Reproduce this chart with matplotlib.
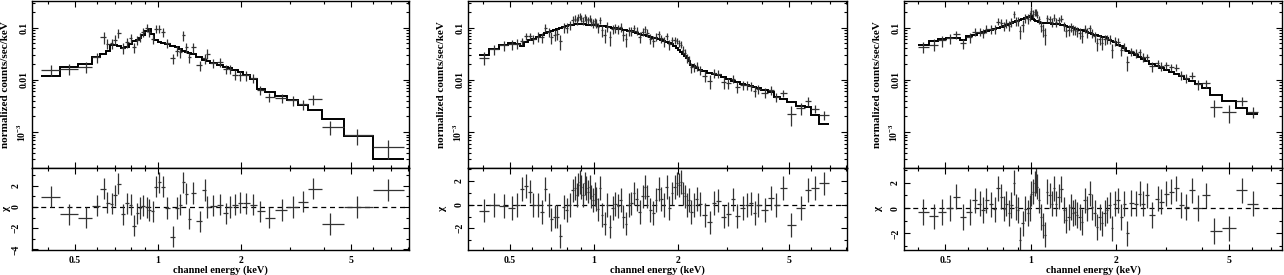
import numpy as np
import matplotlib
matplotlib.use("Agg")
import matplotlib.pyplot as plt
from matplotlib.ticker import FixedLocator, NullFormatter

plt.rcParams['font.family'] = ['Liberation Serif', 'DejaVu Serif']
plt.rcParams['font.weight'] = 'bold'
plt.rcParams['mathtext.default'] = 'regular'

# ---------------- Panel 1 ----------------
e1 = [0.409, 0.478, 0.549, 0.602, 0.636, 0.656, 0.680, 0.699, 0.719, 0.749,
      0.774, 0.796, 0.821, 0.842, 0.861, 0.880, 0.910, 0.930, 0.956, 0.983,
      1.011, 1.040, 1.075, 1.130, 1.175, 1.201, 1.235, 1.263, 1.298, 1.335,
      1.419, 1.475, 1.508, 1.586, 1.676, 1.758, 1.822, 1.900, 1.981, 2.082,
      2.213, 2.340, 2.529, 2.803, 3.072, 3.357, 3.649, 4.193, 5.265, 6.817]
data1 = [0.0153, 0.0162, 0.0177, 0.0271, 0.0653, 0.0488, 0.0502, 0.0581, 0.0780, 0.0408,
         0.0525, 0.0625, 0.0420, 0.0581, 0.0653, 0.0815, 0.0986, 0.0815, 0.0607, 0.0943,
         0.0943, 0.0815, 0.0502, 0.0260, 0.0363, 0.0338, 0.0704, 0.0420, 0.0271, 0.0420,
         0.0188, 0.0260, 0.0314, 0.0208, 0.0218, 0.0162, 0.0162, 0.0126, 0.0121, 0.0121,
         0.0108, 0.00644, 0.00467, 0.00453, 0.00403, 0.00338, 0.00421, 0.00128, 0.000863, 0.000516]
model1 = [0.0119, 0.0175, 0.0205, 0.0270, 0.0314, 0.0363, 0.0453, 0.0473, 0.0434, 0.0408,
          0.0420, 0.0488, 0.0548, 0.0581, 0.0625, 0.0735, 0.0851, 0.0930, 0.0757, 0.0581,
          0.0517, 0.0502, 0.0488, 0.0446, 0.0420, 0.0380, 0.0348, 0.0333, 0.0328, 0.0314,
          0.0271, 0.0241, 0.0234, 0.0211, 0.0188, 0.0175, 0.0165, 0.0151, 0.0140, 0.0126,
          0.0103, 0.00673, 0.00573, 0.00488, 0.00415, 0.00333, 0.00259, 0.00175, 0.00084, 0.00030]
rel1 = [0.24, 0.24, 0.24, 0.22, 0.25, 0.22, 0.22, 0.22, 0.20, 0.22,
        0.22, 0.20, 0.22, 0.20, 0.20, 0.18, 0.18, 0.18, 0.20, 0.18,
        0.18, 0.18, 0.20, 0.22, 0.20, 0.22, 0.20, 0.22, 0.22, 0.22,
        0.22, 0.22, 0.22, 0.20, 0.20, 0.20, 0.20, 0.20, 0.20, 0.20,
        0.20, 0.20, 0.20, 0.20, 0.20, 0.22, 0.22, 0.30, 0.35, 0.40]
chi1 = [0.95, -0.68, -1.0, 0.1, 1.7, 0.4, 0.3, 1.1, 2.2, -0.7,
        0.35, 0.2, -1.75, -0.6, -0.1, 0.1, -0.05, -0.3, -0.4, 1.9,
        2.3, 1.9, -0.1, -2.8, -0.1, 0.2, 2.3, 1.25, -1.1, 1.3,
        -1.35, 1.6, 0.0, 0.1, 0.2, -0.6, 0.0, 0.2, 0.4, 0.35,
        0.2, -0.4, -1.0, -0.3, 0.0, 0.5, 1.7, -1.6, 0.0, 1.6]

# ---------------- Panel 2 ----------------
e2 = [0.4034, 0.4381, 0.4746, 0.5082, 0.5312, 0.5520, 0.5706, 0.5897, 0.6062, 0.6300,
      0.6512, 0.6694, 0.6881, 0.7034, 0.7228, 0.7370, 0.7554, 0.7807, 0.7980, 0.8203,
      0.8385, 0.8525, 0.8667, 0.8764, 0.8884, 0.9007, 0.9133, 0.9257, 0.9386, 0.9517,
      0.9649, 0.9781, 0.9918, 1.0055, 1.0195, 1.0335, 1.0537, 1.0683, 1.0920, 1.1163,
      1.1382, 1.1698, 1.1926, 1.2190, 1.2461, 1.2738, 1.3022, 1.3312, 1.3607, 1.3910,
      1.4218, 1.4617, 1.4940, 1.5190, 1.5530, 1.5873, 1.6272, 1.6683, 1.7055, 1.7434,
      1.7822, 1.8218, 1.8621, 1.9037, 1.9458, 1.9783, 2.0114, 2.0447, 2.0788, 2.1135,
      2.1484, 2.1842, 2.2330, 2.2825, 2.3335, 2.3985, 2.4930, 2.5980, 2.6925, 2.7826,
      2.9240, 3.0222, 3.1495, 3.2640, 3.4110, 3.5450, 3.6640, 3.7660, 3.8710, 4.0900,
      4.3210, 4.5030, 4.7580, 5.0970, 5.5350, 5.8480, 6.1800, 6.6730]
model2 = [0.0301, 0.0380, 0.0467, 0.0510, 0.0488, 0.0434, 0.0525, 0.0565, 0.0607, 0.0673,
          0.0735, 0.0791, 0.0827, 0.0864, 0.0903, 0.0943, 0.0985, 0.1045, 0.1092, 0.1124,
          0.1141, 0.1158, 0.1175, 0.1175, 0.1175, 0.1175, 0.1158, 0.1158, 0.1141, 0.1141,
          0.1141, 0.1124, 0.1124, 0.1108, 0.1108, 0.1092, 0.1076, 0.1076, 0.1060, 0.1045,
          0.1030, 0.1000, 0.0985, 0.0957, 0.0943, 0.0916, 0.0889, 0.0864, 0.0839, 0.0815,
          0.0791, 0.0757, 0.0735, 0.0714, 0.0693, 0.0673, 0.0644, 0.0617, 0.0590, 0.0565,
          0.0548, 0.0532, 0.0510, 0.0481, 0.0447, 0.0409, 0.0374, 0.0343, 0.0314, 0.0288,
          0.0263, 0.0224, 0.0196, 0.0180, 0.0165, 0.0155, 0.0146, 0.0136, 0.0130, 0.0123,
          0.01125, 0.01045, 0.0097, 0.00916, 0.0085, 0.0080, 0.00756, 0.00724, 0.00683, 0.00625,
          0.00573, 0.00467, 0.00427, 0.00374, 0.00309, 0.00300, 0.00208, 0.00144]
rel2 = [0.24, 0.22, 0.22, 0.22, 0.22, 0.20, 0.20, 0.20, 0.20, 0.20,
        0.20, 0.20, 0.20, 0.20, 0.20, 0.20, 0.17, 0.20, 0.20, 0.20,
        0.20, 0.20, 0.20, 0.20, 0.20, 0.20, 0.20, 0.20, 0.20, 0.20,
        0.20, 0.20, 0.20, 0.20, 0.20, 0.20, 0.20, 0.20, 0.20, 0.20,
        0.20, 0.20, 0.20, 0.20, 0.20, 0.20, 0.20, 0.20, 0.20, 0.20,
        0.20, 0.20, 0.20, 0.20, 0.20, 0.20, 0.20, 0.20, 0.20, 0.20,
        0.20, 0.20, 0.20, 0.20, 0.20, 0.20, 0.20, 0.20, 0.20, 0.20,
        0.20, 0.20, 0.20, 0.20, 0.20, 0.20, 0.20, 0.20, 0.20, 0.20,
        0.20, 0.20, 0.20, 0.20, 0.20, 0.20, 0.20, 0.20, 0.20, 0.20,
        0.20, 0.20, 0.22, 0.24, 0.24, 0.24, 0.24, 0.26]
chi2 = [-0.5, 0.0, -0.1, -0.3, 0.0, 1.3, 1.6, 1.1, 0.0, 0.0,
        -0.6, 1.3, 0.0, -1.25, -1.0, -1.0, -2.65, -0.2, -0.45, -0.05,
        1.2, 1.4, 0.8, 1.7, 1.9, 1.5, 0.8, 1.8, 1.4, 1.1,
        1.5, 0.7, 0.4, 0.9, 0.5, -0.4, 1.4, -0.9, -1.6, 0.0,
        -1.85, -0.3, 0.05, -0.1, 0.4, -1.0, -1.6, -0.05, 0.1, 0.95,
        0.45, -0.6, 0.7, 1.5, 0.7, -0.45, -0.7, 0.4, 1.3, 0.5,
        -0.05, 1.5, -0.3, 0.95, 1.5, 1.8, 1.65, 1.9, 0.95, 0.7,
        -0.05, 0.4, -0.6, -0.05, 0.5, 0.05, -0.9, -1.5, 0.15, 0.35,
        -1.0, -0.8, 0.45, -0.95, -0.3, -0.05, 0.1, -0.7, -0.05, -0.45,
        0.55, -0.05, 1.4, -1.7, -0.3, 1.25, 1.4, 1.8]

# ---------------- Panel 3 ----------------
e3 = [0.4182, 0.4571, 0.4877, 0.5191, 0.5477, 0.5781, 0.6103, 0.6353, 0.6616, 0.6798,
      0.6984, 0.7272, 0.7471, 0.7675, 0.7885, 0.8057, 0.8211, 0.8367, 0.8551, 0.8738,
      0.8905, 0.9027, 0.9147, 0.9398, 0.9577, 0.9786, 0.9920, 1.0054, 1.0191, 1.0330,
      1.0469, 1.0554, 1.0698, 1.0902, 1.1051, 1.1199, 1.1445, 1.1663, 1.1885, 1.2081,
      1.2312, 1.2546, 1.2820, 1.3098, 1.3348, 1.3602, 1.3900, 1.4128, 1.4359, 1.4593,
      1.4871, 1.5154, 1.5486, 1.5824, 1.6126, 1.6433, 1.6792, 1.7160, 1.7487, 1.7821,
      1.8210, 1.8605, 1.8960, 1.9320, 1.9744, 2.0284, 2.0840, 2.1296, 2.1878, 2.2600,
      2.3533, 2.4180, 2.4840, 2.5724, 2.6717, 2.8045, 2.8815, 3.0003, 3.1242, 3.2532,
      3.3878, 3.5277, 3.6940, 3.8780, 4.1477, 4.4370, 5.0118, 5.5363, 6.0534]
model3 = [0.0453, 0.0548, 0.0607, 0.0625, 0.0625, 0.0581, 0.0693, 0.0735, 0.0780, 0.0815,
          0.0839, 0.0889, 0.0943, 0.0985, 0.1045, 0.1092, 0.1124, 0.1175, 0.1228, 0.1283,
          0.1321, 0.1361, 0.1401, 0.1464, 0.1530, 0.1599, 0.1646, 0.1696, 0.1464, 0.1401,
          0.1361, 0.1321, 0.1283, 0.1246, 0.1228, 0.1228, 0.1210, 0.1210, 0.1193, 0.1175,
          0.1175, 0.1158, 0.1141, 0.1108, 0.1076, 0.1045, 0.1015, 0.0985, 0.0957, 0.0943,
          0.0916, 0.0889, 0.0851, 0.0815, 0.0791, 0.0757, 0.0735, 0.0714, 0.0693, 0.0673,
          0.0653, 0.0625, 0.0581, 0.0548, 0.0517, 0.0473, 0.0434, 0.0403, 0.0363, 0.0324,
          0.0301, 0.0271, 0.0252, 0.0227, 0.0202, 0.0180, 0.0167, 0.0155, 0.0140, 0.0130,
          0.0116, 0.01045, 0.00944, 0.00815, 0.00703, 0.00502, 0.00391, 0.00292, 0.00224]
rel3 = [0.22, 0.22, 0.22, 0.21, 0.20, 0.20, 0.20, 0.20, 0.20, 0.20,
        0.20, 0.20, 0.20, 0.20, 0.20, 0.20, 0.20, 0.20, 0.20, 0.20,
        0.20, 0.20, 0.16, 0.20, 0.20, 0.20, 0.20, 0.20, 0.20, 0.20,
        0.20, 0.20, 0.20, 0.20, 0.20, 0.20, 0.20, 0.20, 0.20, 0.20,
        0.20, 0.20, 0.20, 0.20, 0.20, 0.20, 0.20, 0.20, 0.20, 0.20,
        0.20, 0.20, 0.20, 0.20, 0.20, 0.20, 0.20, 0.20, 0.20, 0.20,
        0.20, 0.20, 0.20, 0.20, 0.20, 0.20, 0.20, 0.20, 0.20, 0.20,
        0.20, 0.20, 0.20, 0.20, 0.20, 0.20, 0.20, 0.20, 0.20, 0.20,
        0.20, 0.20, 0.20, 0.20, 0.21, 0.22, 0.24, 0.24, 0.24]
chi3 = [-0.3, -0.65, -0.3, 0.0, 0.9, -0.7, -0.3, 0.6, 0.35, -0.15,
        0.6, 0.3, -0.1, 1.55, 0.9, -0.05, 0.35, -0.4, 0.25, 2.0,
        0.1, -0.15, -2.5, -1.2, -0.05, -0.4, 0.0, 1.15, 1.3, 1.95,
        2.2, 1.7, 0.6, -0.7, -1.35, -2.1, 1.3, 1.0, 0.35, 1.55,
        0.35, 0.9, 1.5, -0.15, -0.95, -0.7, 0.1, -0.4, -0.3, -0.55,
        -0.7, -1.1, 0.6, -0.05, 1.15, 0.1, -0.4, -1.5, -0.7, -1.2,
        -0.4, -0.15, 0.25, -1.6, 0.35, 0.6, -0.7, 0.35, -2.0, 0.4,
        0.35, 1.15, 0.35, 1.0, -0.55, 0.75, 0.5, 1.15, 1.3, 1.55,
        0.25, 0.1, 1.4, 0.0, 1.0, -1.8, -1.6, 1.4, 0.35]

# data points for panels 2/3 follow from model, delchi residual and error
m2, c2, r2 = np.array(model2), np.array(chi2), np.array(rel2)
data2 = m2 * (1 + c2 * r2)
m3, c3, r3 = np.array(model3), np.array(chi3), np.array(rel3)
data3 = m3 * (1 + c3 * r3)

x_major = [0.5, 1, 2, 5]
x_major_labels = ['0.5', '1', '2', '5']
x_minor = [0.4, 0.6, 0.7, 0.8, 0.9, 3, 4, 6, 7, 8]
y_major = [1e-3, 1e-2, 1e-1]
y_major_labels = ['10$^{-3}$', '0.01', '0.1']

panels = [
    dict(e=e1, data=np.array(data1), model=model1, sig=np.array(rel1) * np.array(data1), chi=chi1,
         left=32, width=377, xlim=(0.35, 8.1), rlim=(-4.05, 3.66), rticks=[-4, -2, 0, 2], rpad=8.0),
    dict(e=e2, data=data2, model=model2, sig=r2 * m2, chi=chi2,
         left=468, width=379, xlim=(0.353, 8.07), rlim=(-3.83, 3.1), rticks=[-2, 0, 2], rpad=2.8),
    dict(e=e3, data=data3, model=model3, sig=r3 * m3, chi=chi3,
         left=904, width=378, xlim=(0.358, 7.68), rlim=(-3.3, 3.16), rticks=[-2, 0, 2], rpad=2.8),
]

W, H = 1284, 275
fig = plt.figure(figsize=(W / 100, H / 100), dpi=100)
top_y0, top_y1 = 0.6, 168
res_y1 = 250
ECOL = '#333333'
FW = 'bold'

def style_axis(ax, xlim):
    ax.set_xscale('log')
    ax.set_xlim(*xlim)
    ax.xaxis.set_major_locator(FixedLocator(x_major))
    ax.xaxis.set_minor_locator(FixedLocator(x_minor))
    ax.xaxis.set_minor_formatter(NullFormatter())
    ax.tick_params(which='both', direction='in', top=True, right=True, width=0.8, colors='black')
    ax.tick_params(which='major', length=4.5)
    ax.tick_params(which='minor', length=2.3)
    for s in ax.spines.values():
        s.set_linewidth(1.0)

for p in panels:
    e = np.array(p['e'])
    logc = np.log10(e)
    mids = (logc[:-1] + logc[1:]) / 2
    edges = 10 ** np.concatenate([[2 * logc[0] - mids[0]], mids, [2 * logc[-1] - mids[-1]]])
    xlo = e - edges[:-1]
    xhi = edges[1:] - e
    L, Wd = p['left'], p['width']

    axt = fig.add_axes([L / W, 1 - top_y1 / H, Wd / W, (top_y1 - top_y0) / H])
    axr = fig.add_axes([L / W, 1 - res_y1 / H, Wd / W, (res_y1 - top_y1) / H])

    # top panel
    style_axis(axt, p['xlim'])
    axt.set_yscale('log')
    axt.set_ylim(2.06e-4, 0.327)
    axt.stairs(p['model'], edges, baseline=None, color='black', lw=1.4)
    axt.errorbar(e, p['data'], xerr=[xlo, xhi], yerr=p['sig'], fmt='none',
                 ecolor=ECOL, elinewidth=0.9, capsize=0)
    axt.set_yticks(y_major, y_major_labels, rotation=90, va='center', fontsize=7, fontweight=FW)
    axt.tick_params(axis='y', which='major', pad=2.6)
    axt.tick_params(axis='x', labelbottom=False)
    axt.set_ylabel('normalized counts/sec/keV', fontsize=8, fontweight=FW, va='center', ha='center')
    axt.yaxis.set_label_coords(-26 / Wd, 0.5)

    # residual panel
    style_axis(axr, p['xlim'])
    axr.set_ylim(*p['rlim'])
    axr.axhline(0, color='black', lw=0.9, ls=(0, (4, 3)))
    axr.errorbar(e, p['chi'], xerr=[xlo, xhi], yerr=1.0, fmt='none',
                 ecolor=ECOL, elinewidth=0.9, capsize=0)
    axr.set_yticks(p['rticks'], [('\u2212' + str(-t)) if t < 0 else str(t) for t in p['rticks']],
                   rotation=90, va='center', fontsize=7, fontweight=FW)
    axr.yaxis.set_minor_locator(FixedLocator([-3, -1, 1, 3]))
    axr.tick_params(axis='y', which='major', pad=p['rpad'])
    axr.set_xticklabels(x_major_labels, fontsize=7, fontweight=FW)
    axr.tick_params(axis='x', which='major', pad=4)
    axr.set_ylabel('\u03c7', fontsize=8, fontweight=FW, va='center', ha='center', rotation=90)
    axr.yaxis.set_label_coords(-25 / Wd, 0.5)
    axr.set_xlabel('channel energy (keV)', fontsize=7.5, fontweight=FW, va='center')
    axr.xaxis.set_label_coords(0.5, -20 / (res_y1 - top_y1))

fig.savefig('out.png', dpi=100)
